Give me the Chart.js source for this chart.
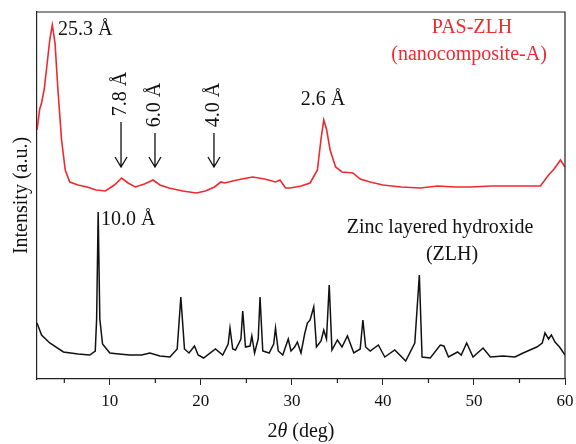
<!DOCTYPE html>
<html lang="en">
<head>
    <meta charset="UTF-8">
    <title>XRD patterns</title>
    <script src="https://cdn.jsdelivr.net/npm/chart.js"></script>
    <style>
        body { margin: 0; background: #fff; }
        #wrap { width: 576px; height: 444px; }
    </style>
</head>
<body>
    <div id="wrap"><canvas id="xrd"></canvas></div>

    <script>
        // 2theta (deg) and intensity (a.u.)
        const pasX = [2.0, 2.3, 2.5, 2.8, 3.07, 3.4, 3.68, 3.98, 4.3, 4.7, 5.1, 5.6, 6.5, 7.5, 8.5, 9.5, 10.5, 11.3, 12.0, 12.8,
            13.8, 14.75, 15.5, 16.5, 18.0, 19.5, 20.5, 21.5, 22.2, 22.6, 23.5, 24.5, 25.7, 27.0, 28.2, 28.7, 29.3, 29.8, 31.0, 32.0,
            32.8, 33.2, 33.5, 33.8, 34.2, 34.8, 35.5, 36.7, 37.5, 38.6, 40.0, 42.0, 44.1, 46.0, 48.0, 49.6, 52.0, 54.0, 56.0, 57.3,
            58.2, 58.8, 59.5, 60.0];
        const pasY = [249, 270, 276, 290, 312, 339, 354, 336, 289, 239, 209, 197, 194, 192, 189, 188, 194, 201, 196, 192,
            195, 199, 194, 191, 188, 186, 188, 192, 197, 196, 198, 200, 202, 200, 197, 199, 191, 191, 193, 196,
            209, 240, 259, 250, 229, 212, 207, 206, 200, 197, 194, 192, 191, 193, 192, 192, 193, 193, 193, 193,
            204, 210, 219, 212];

        const zlhX = [2.0, 2.5, 3.4, 4.9, 6.5, 7.8, 8.4, 8.55, 8.72, 8.9, 9.2, 10.0, 11.0, 12.2, 13.5, 14.4, 15.5, 16.6, 17.4, 17.8,
            18.2, 18.7, 19.3, 19.7, 20.3, 21.6, 22.4, 23.0, 23.2, 23.5, 23.8, 24.4, 24.6, 24.9, 25.4, 25.6, 25.9, 26.3, 26.5, 26.8,
            27.5, 28.0, 28.2, 28.5, 29.0, 29.6, 29.9, 30.3, 30.6, 31.0, 31.4, 31.7, 32.0, 32.4, 32.7, 33.2, 33.5, 33.8, 34.1, 34.4,
            35.0, 35.5, 36.1, 36.8, 37.5, 37.8, 38.1, 38.6, 39.5, 40.2, 41.3, 42.5, 43.5, 44.0, 44.3, 45.2, 46.3, 46.7, 47.2, 48.2,
            48.6, 49.2, 49.9, 51.0, 51.8, 53.2, 54.5, 55.4, 56.4, 56.9, 57.5, 57.8, 58.2, 58.5, 58.9, 59.4, 60.0];
        const zlhY = [56, 44, 36, 27, 25, 24, 28, 60, 167, 60, 35, 26, 25, 24, 24, 26, 23, 22, 30, 82,
            30, 26, 33, 24, 21, 30, 24, 35, 51, 30, 29, 40, 68, 32, 33, 43, 26, 40, 82, 28,
            26, 35, 51, 28, 24, 40, 28, 32, 37, 26, 45, 56, 59, 72, 32, 38, 49, 40, 94, 29,
            39, 32, 43, 26, 30, 59, 32, 28, 34, 22, 29, 18, 36, 104, 22, 21, 34, 33, 22, 27,
            24, 36, 22, 31, 22, 23, 22, 26, 30, 32, 36, 46, 40, 44, 37, 32, 24];

        const majorTicks = [10, 20, 30, 40, 50, 60];
        const minorTicks = [5, 15, 25, 35, 45, 55];

        // annotation texts placed in data coordinates
        const notes = [
            { text: '25.3 Å', x: 4.31, y: 349, align: 'left', color: '#111' },
            { text: '10.0 Å', x: 9.03, y: 159, align: 'left', color: '#111' },
            { text: '2.6 Å', x: 33.42, y: 279, align: 'center', color: '#111' },
            { text: 'PAS-ZLH', x: 49.79, y: 351, align: 'center', color: '#ee2a2e' },
            { text: '(nanocomposite-A)', x: 49.46, y: 324, align: 'center', color: '#ee2a2e' },
            { text: 'Zinc layered hydroxide', x: 46.27, y: 151, align: 'center', color: '#111' },
            { text: '(ZLH)', x: 47.59, y: 124, align: 'center', color: '#111' }
        ];
        const arrows = [
            { text: '7.8 Å', x: 11.23, textY: 285, from: 257, to: 212 },
            { text: '6.0 Å', x: 14.96, textY: 274, from: 246, to: 212 },
            { text: '4.0 Å', x: 21.44, textY: 274, from: 246, to: 212 }
        ];

        const serif = '"Liberation Serif", "DejaVu Serif", serif';

        const notesPlugin = {
            id: 'notes',
            afterDatasetsDraw(chart) {
                const { ctx, chartArea, scales } = chart;
                const xs = scales.x, ys = scales.y;
                ctx.save();
                // frame on top and right
                ctx.strokeStyle = '#222';
                ctx.lineWidth = 1.2;
                ctx.beginPath();
                ctx.moveTo(chartArea.left, chartArea.top);
                ctx.lineTo(chartArea.right, chartArea.top);
                ctx.lineTo(chartArea.right, chartArea.bottom);
                // short minor ticks
                minorTicks.forEach(v => {
                    const px = xs.getPixelForValue(v);
                    ctx.moveTo(px, chartArea.bottom);
                    ctx.lineTo(px, chartArea.bottom + 4);
                });
                ctx.stroke();

                ctx.font = '20px ' + serif;
                ctx.textBaseline = 'middle';
                notes.forEach(n => {
                    ctx.fillStyle = n.color;
                    ctx.textAlign = n.align;
                    ctx.fillText(n.text, xs.getPixelForValue(n.x), ys.getPixelForValue(n.y));
                });

                arrows.forEach(a => {
                    const px = xs.getPixelForValue(a.x);
                    ctx.save();
                    ctx.translate(px, ys.getPixelForValue(a.textY));
                    ctx.rotate(-Math.PI / 2);
                    ctx.fillStyle = '#111';
                    ctx.textAlign = 'center';
                    ctx.fillText(a.text, 0, 0);
                    ctx.restore();

                    const y0 = ys.getPixelForValue(a.from), y1 = ys.getPixelForValue(a.to);
                    ctx.strokeStyle = '#111';
                    ctx.lineWidth = 1.3;
                    ctx.beginPath();
                    ctx.moveTo(px, y0);
                    ctx.lineTo(px, y1);
                    ctx.moveTo(px - 6, y1 - 10);
                    ctx.lineTo(px, y1);
                    ctx.lineTo(px + 6, y1 - 10);
                    ctx.stroke();
                });

                // x title with italic theta
                const cx = (chartArea.left + chartArea.right) / 2;
                const ty = chartArea.bottom + 53;
                const parts = [['2', '20px '], ['θ', 'italic 20px '], [' (deg)', '20px ']];
                let total = 0;
                parts.forEach(p => { ctx.font = p[1] + serif; total += ctx.measureText(p[0]).width; });
                let tx = cx - total / 2;
                ctx.fillStyle = '#111';
                ctx.textAlign = 'left';
                parts.forEach(p => {
                    ctx.font = p[1] + serif;
                    ctx.fillText(p[0], tx, ty);
                    tx += ctx.measureText(p[0]).width;
                });
                ctx.restore();
            }
        };

        new Chart(document.getElementById('xrd'), {
            type: 'line',
            data: {
                datasets: [
                    {
                        label: 'PAS-ZLH',
                        data: pasX.map((x, i) => ({ x: x, y: pasY[i] })),
                        borderColor: '#ee2a2e',
                        borderWidth: 1.6,
                        pointRadius: 0,
                        tension: 0
                    },
                    {
                        label: 'ZLH',
                        data: zlhX.map((x, i) => ({ x: x, y: zlhY[i] })),
                        borderColor: '#111',
                        borderWidth: 1.5,
                        pointRadius: 0,
                        tension: 0
                    }
                ]
            },
            options: {
                responsive: true,
                maintainAspectRatio: false,
                animation: false,
                layout: { padding: { top: 12, right: 11, left: 0, bottom: 0 } },
                plugins: {
                    legend: { display: false },
                    tooltip: { enabled: false }
                },
                scales: {
                    x: {
                        type: 'linear',
                        min: 2,
                        max: 60,
                        afterBuildTicks: s => { s.ticks = majorTicks.map(v => ({ value: v })); },
                        afterFit: s => { s.height = 65; s.paddingLeft = 0; s.paddingRight = 0; },
                        ticks: {
                            color: '#111',
                            font: { family: serif, size: 17 },
                            padding: 6,
                            maxRotation: 0,
                            autoSkip: false
                        },
                        grid: { drawOnChartArea: false, tickLength: 6, color: '#222' },
                        border: { color: '#222', width: 1.2 }
                    },
                    y: {
                        min: 0,
                        max: 367,
                        afterFit: s => { s.width = 37; },
                        ticks: { display: false },
                        grid: { display: false },
                        border: { color: '#222', width: 1.2 },
                        title: {
                            display: true,
                            text: 'Intensity (a.u.)',
                            color: '#111',
                            font: { family: serif, size: 20 },
                            padding: { top: 10, bottom: 0 }
                        }
                    }
                }
            },
            plugins: [notesPlugin]
        });
    </script>
</body>
</html>
